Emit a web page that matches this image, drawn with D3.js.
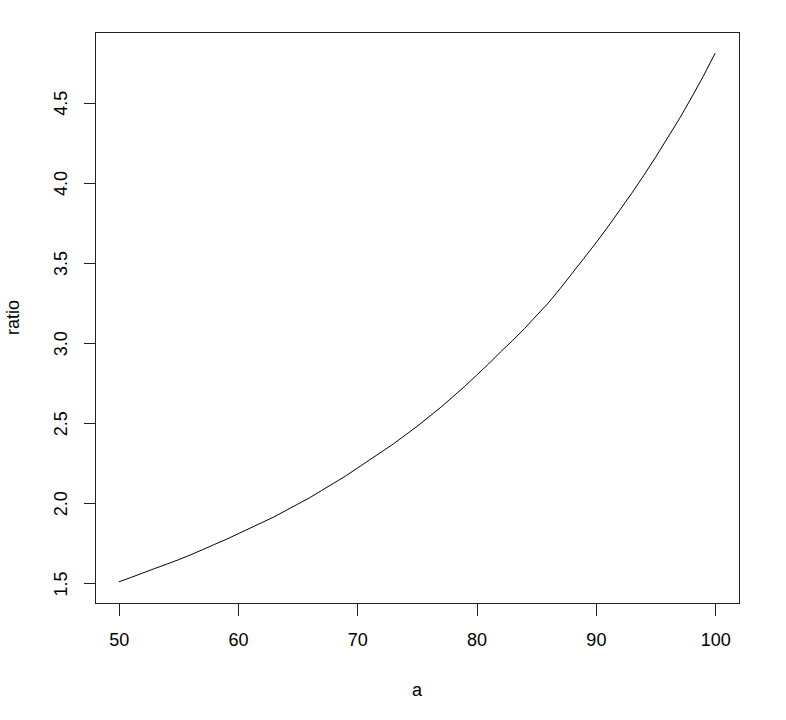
<!DOCTYPE html>
<html>
<head>
<meta charset="utf-8">
<script src="https://cdn.jsdelivr.net/npm/d3@7"></script>
<style>
  html, body { margin: 0; padding: 0; background: #fff; }
  svg { display: block; }
  text { font-family: "Liberation Sans", Arial, sans-serif; fill: #000; }
</style>
</head>
<body>
<script>
// ---- data ----
const aValues = [50,51,52,53,54,55,56,57,58,59,60,61,62,63,64,65,66,67,68,69,70,
                 71,72,73,74,75,76,77,78,79,80,81,82,83,84,85,86,87,88,89,90,
                 91,92,93,94,95,96,97,98,99,100];
const ratioValues = [1.51,1.537,1.565,1.593,1.62,1.648,1.678,1.71,1.743,1.775,1.81,
                     1.845,1.88,1.915,1.955,1.995,2.035,2.08,2.125,2.17,2.22,
                     2.27,2.32,2.37,2.425,2.48,2.54,2.60,2.665,2.73,2.80,
                     2.87,2.945,3.015,3.09,3.17,3.25,3.34,3.435,3.53,3.625,
                     3.725,3.83,3.935,4.045,4.16,4.28,4.40,4.53,4.665,4.81];
const xTicks = [50,60,70,80,90,100];
const yTicks = [1.5,2.0,2.5,3.0,3.5,4.0,4.5];
const xLabel = "a";
const yLabel = "ratio";

// ---- layout ----
const W = 786, H = 720;
const L = 95, R = 739, T = 32, B = 603;

const svg = d3.select("body").append("svg").attr("width", W).attr("height", H);

function padded(ext) { const d = ext[1] - ext[0]; return [ext[0] - 0.04 * d, ext[1] + 0.04 * d]; }

const x = d3.scaleLinear().domain(padded(d3.extent(aValues))).range([L, R]);
const y = d3.scaleLinear().domain(padded(d3.extent(ratioValues))).range([B, T]);

const data = aValues.map((a, i) => ({a, r: ratioValues[i]}));

// curve
svg.append("path")
  .datum(data)
  .attr("fill", "none")
  .attr("stroke", "#000")
  .attr("stroke-width", 1)
  .attr("d", d3.line().x(d => x(d.a)).y(d => y(d.r)));

// box
svg.append("rect")
  .attr("x", L + 0.5).attr("y", T + 0.5)
  .attr("width", R - L).attr("height", B - T)
  .attr("fill", "none").attr("stroke", "#222").attr("stroke-width", 1)
  .attr("shape-rendering", "crispEdges");

// x axis
const gx = svg.append("g")
  .attr("transform", `translate(0,${B + 0.5})`)
  .call(d3.axisBottom(x).tickValues(xTicks).tickSize(12).tickPadding(18).tickFormat(d3.format("d")));
gx.select(".domain").remove();
gx.selectAll(".tick line").attr("stroke", "#222").attr("shape-rendering", "crispEdges");
gx.selectAll(".tick text").attr("font-size", 18).attr("font-family", "Liberation Sans, Arial, sans-serif").attr("fill", "#000");

// y axis
const gy = svg.append("g")
  .attr("transform", `translate(${L + 0.5},0)`)
  .call(d3.axisLeft(y).tickValues(yTicks).tickSize(12).tickFormat(d3.format(".1f")));
gy.select(".domain").remove();
gy.selectAll(".tick line").attr("stroke", "#222").attr("shape-rendering", "crispEdges");
gy.selectAll(".tick text")
  .attr("x", null).attr("dy", null)
  .attr("transform", "translate(-29,0) rotate(-90)")
  .attr("text-anchor", "middle")
  .attr("font-size", 18).attr("font-family", "Liberation Sans, Arial, sans-serif").attr("fill", "#000");

// axis titles
svg.append("text")
  .attr("x", (L + R) / 2).attr("y", 696)
  .attr("text-anchor", "middle").attr("font-size", 18)
  .text(xLabel);

svg.append("text")
  .attr("transform", `translate(19,${(T + B) / 2}) rotate(-90)`)
  .attr("text-anchor", "middle").attr("font-size", 18)
  .text(yLabel);
</script>
</body>
</html>
